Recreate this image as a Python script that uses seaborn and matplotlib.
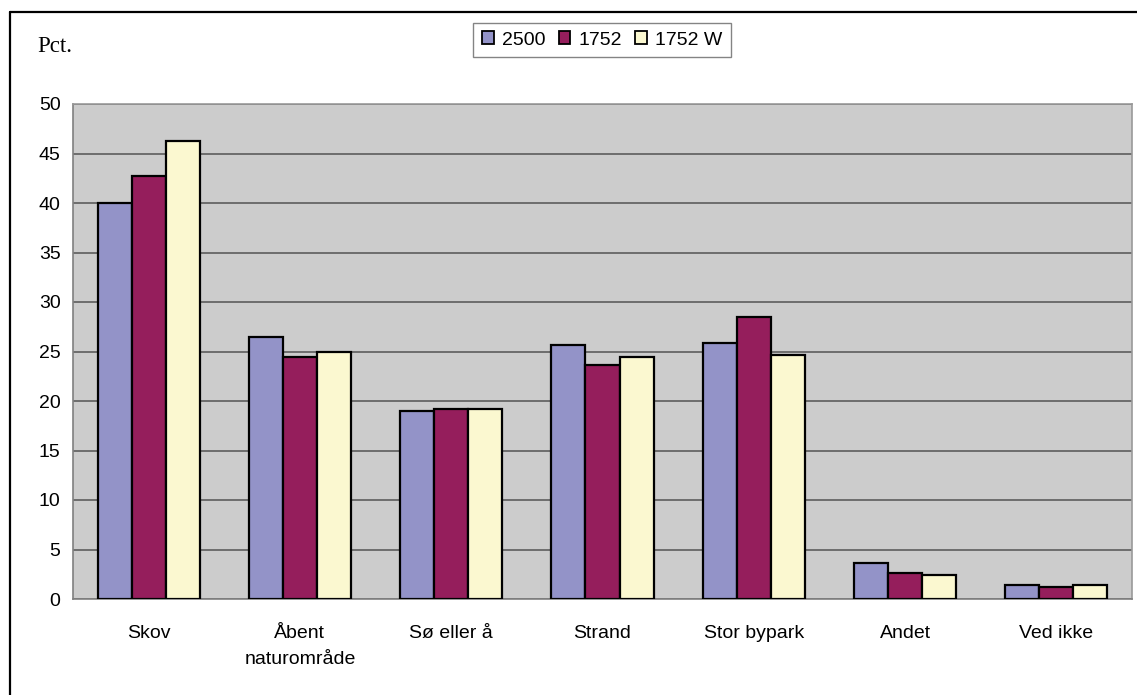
import pandas as pd
import numpy as np
import matplotlib.pyplot as plt
import seaborn as sns
from matplotlib.lines import Line2D

categories = ["Skov", "Åbent\nnaturområde", "Sø eller å", "Strand", "Stor bypark", "Andet", "Ved ikke"]
series = ["2500", "1752", "1752 W"]
v2500 = [40.0, 26.5, 19.0, 25.7, 25.9, 3.6, 1.4]
v1752 = [42.7, 24.4, 19.2, 23.6, 28.5, 2.6, 1.2]
v1752w = [46.3, 25.0, 19.2, 24.4, 24.6, 2.4, 1.4]
colors = ["#9393C8", "#951E5C", "#FBF8D0"]
yticks = [0, 5, 10, 15, 20, 25, 30, 35, 40, 45, 50]

rows = []
for name, vals in zip(series, [v2500, v1752, v1752w]):
    for c, v in zip(categories, vals):
        rows.append({"kategori": c, "serie": name, "pct": v})
df = pd.DataFrame(rows)

sns.set_style("white")
plt.rcParams['font.family'] = ['Liberation Sans', 'DejaVu Sans']
plt.rcParams['text.color'] = 'black'
plt.rcParams['xtick.labelcolor'] = 'black'
plt.rcParams['ytick.labelcolor'] = 'black'

fig = plt.figure(figsize=(11.37, 6.95), dpi=100)
ax = fig.add_axes([73/1137, 96/695, 1059/1137, 495/695])
ax.set_facecolor("#CCCCCC")

sns.barplot(data=df, x="kategori", y="pct", hue="serie", palette=colors, saturation=1,
            width=0.675, gap=0, edgecolor="black", linewidth=1.6,
            errorbar=None, ax=ax, zorder=3)

ax.set_ylim(0, 50)
ax.set_xlim(-0.5, 6.5)
ax.set_yticks(yticks)
ax.set_yticklabels([str(t) for t in yticks], fontsize=14)
ax.yaxis.grid(True, color="#666666", linewidth=1.3, zorder=0)
ax.set_axisbelow(True)

# ticks at group boundaries, labels at group centers
ax.set_xticks(np.arange(-0.5, 7.0, 1.0))
ax.set_xticklabels([])
ax.set_xticks(np.arange(7), minor=True)
ax.set_xticklabels(categories, minor=True, fontsize=14, linespacing=1.7)
ax.tick_params(axis="x", which="major", length=5, width=1, color="#808080", direction="out")
ax.tick_params(axis="x", which="minor", length=0, pad=19)
ax.tick_params(axis="y", length=5, width=1, color="#808080", direction="out", pad=4)
ax.set_xlabel("")
ax.set_ylabel("")

for s in ["left", "bottom"]:
    ax.spines[s].set_color("#808080")
    ax.spines[s].set_linewidth(1.2)
for s in ["top", "right"]:
    ax.spines[s].set_color("#999999")
    ax.spines[s].set_linewidth(1.2)

leg = ax.legend(loc="center", bbox_to_anchor=(602/1137, 1 - 40/695), bbox_transform=fig.transFigure,
                ncol=3, frameon=True, fontsize=14, handlelength=0.6, handleheight=0.6,
                handletextpad=0.4, columnspacing=0.7, borderpad=0.45, fancybox=False)
leg.get_frame().set_edgecolor("#666666")
leg.get_frame().set_linewidth(1.0)
for h in leg.legend_handles:
    h.set_edgecolor("black")
    h.set_linewidth(1.3)
for t in leg.get_texts():
    t.set_color("black")

fig.text(37/1137, 1 - 46/695, "Pct.", fontsize=16.5, va="center", ha="left",
         family=["Liberation Serif", "DejaVu Serif"])

# outer chart frame
fig.add_artist(Line2D([9.5/1137, 9.5/1137], [0, 1 - 12/695], transform=fig.transFigure, color="black", linewidth=1.6))
fig.add_artist(Line2D([9.5/1137, 1], [1 - 12/695, 1 - 12/695], transform=fig.transFigure, color="black", linewidth=1.6))

plt.savefig("out.png", dpi=100)
